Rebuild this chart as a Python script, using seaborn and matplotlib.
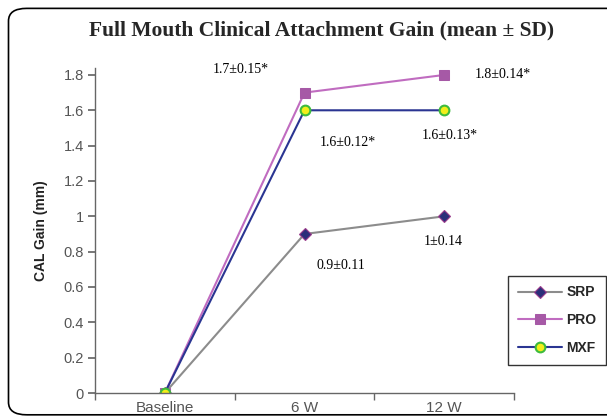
import seaborn as sns
import pandas as pd
import numpy as np
import matplotlib.pyplot as plt
from matplotlib.patches import FancyBboxPatch

sns.set_theme(style='white')
plt.rcParams['font.family'] = ['Liberation Sans', 'DejaVu Sans']

timepoints = ['Baseline', '6 W', '12 W']
srp = [0, 0.9, 1.0]
pro = [0, 1.7, 1.8]
mxf = [0, 1.6, 1.6]
labels_srp = ['0.9±0.11', '1±0.14']
labels_pro = ['1.7±0.15*', '1.8±0.14*']
labels_mxf = ['1.6±0.12*', '1.6±0.13*']
yticks = [0, 0.2, 0.4, 0.6, 0.8, 1, 1.2, 1.4, 1.6, 1.8]

fig = plt.figure(figsize=(6.07, 4.19), dpi=100)
ax = fig.add_axes([0.1565, 0.062, 0.6903, 0.776])

# rounded frame around the whole chart
frame = FancyBboxPatch((0.014, 0.01), 1.05, 0.97, boxstyle='round,pad=0,rounding_size=0.03',
                       transform=fig.transFigure, facecolor='none', edgecolor='black',
                       linewidth=1.2, zorder=0)
fig.patches.append(frame)

sns.lineplot(x=timepoints, y=srp, ax=ax, color='#8c8c8c', linewidth=1.5, marker='D',
             markersize=6, markerfacecolor='#2b2f7a', markeredgecolor='#9b3c8c',
             markeredgewidth=0.8, label='SRP', sort=False)
sns.lineplot(x=timepoints, y=pro, ax=ax, color='#c06cc0', linewidth=1.5, marker='s',
             markersize=7.5, markerfacecolor='#a659a6', markeredgecolor='#a659a6',
             label='PRO', sort=False)
sns.lineplot(x=timepoints, y=mxf, ax=ax, color='#2a3592', linewidth=1.5, marker='o',
             markersize=7, markerfacecolor='#f2ee1a', markeredgecolor='#3dbb3d',
             markeredgewidth=1.5, label='MXF', sort=False)

# value annotations
serif = ['Liberation Serif', 'DejaVu Serif']
ann_pos = {
    labels_pro[0]: (0.543, 1.828), labels_pro[1]: (2.421, 1.805),
    labels_mxf[0]: (1.314, 1.420), labels_mxf[1]: (2.043, 1.460),
    labels_srp[0]: (1.264, 0.719), labels_srp[1]: (1.993, 0.860),
}
for txt, (xx, yy) in ann_pos.items():
    ax.text(xx, yy, txt, ha='center', va='center', fontsize=10, family=serif, color='black')

ax.set_xlim(-0.5, 2.5)
ax.set_ylim(0, 1.84)
ax.set_yticks(yticks)
ax.set_yticklabels([f'{v:g}' for v in yticks])
ax.set_xticks([0, 1, 2])
ax.set_xticks([-0.5, 0.5, 1.5, 2.5], minor=True)
ax.tick_params(axis='x', which='major', length=0, labelsize=11, labelcolor='#555555', pad=6)
ax.tick_params(axis='x', which='minor', length=5, color='#666666', direction='out', bottom=True)
ax.tick_params(axis='y', length=5, color='#666666', direction='out', left=True,
               labelsize=10.5, labelcolor='#555555', pad=3)

for side in ['top', 'right']:
    ax.spines[side].set_visible(False)
for side in ['left', 'bottom']:
    ax.spines[side].set_color('#666666')
    ax.spines[side].set_linewidth(1.0)

ax.set_xlabel('')
ax.set_ylabel('CAL Gain (mm)', fontsize=10, fontweight='bold', color='#222222', labelpad=11)

fig.text(0.53, 0.928, 'Full Mouth Clinical Attachment Gain (mean ± SD)', ha='center',
         va='center', fontsize=15.5, fontweight='bold', family=serif)

leg = ax.legend(loc='upper left', bbox_to_anchor=(0.837, 0.342), bbox_transform=fig.transFigure,
                frameon=True, fancybox=False, handlelength=3.2, handletextpad=0.3,
                labelspacing=1.0, borderpad=0.7, borderaxespad=0,
                prop={'weight': 'bold', 'size': 10})
leg.get_frame().set_edgecolor('#333333')
leg.get_frame().set_linewidth(1.0)
leg.get_frame().set_alpha(1)

fig.savefig('out.png', dpi=100)
